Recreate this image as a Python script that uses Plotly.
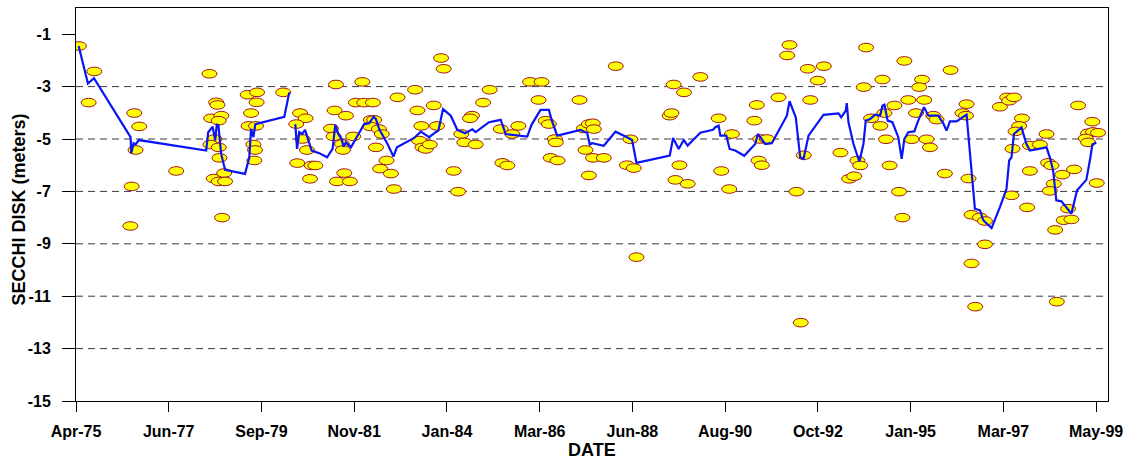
import pandas as pd
import plotly.graph_objects as go

# Secchi disk readings (decimal year, depth in metres; negative = below surface)
sample_year = [
    1975.353, 1975.716, 1975.582, 1976.660, 1976.778, 1976.691, 1976.596, 1976.566,
    1977.651, 1978.437, 1978.595, 1978.625, 1978.477, 1978.720, 1978.656, 1978.555,
    1978.460, 1978.656, 1978.673, 1978.538, 1978.784, 1978.656, 1978.807, 1978.736,
    1979.340, 1979.562, 1979.553, 1979.421, 1979.364, 1979.539, 1979.475, 1979.515,
    1979.498, 1980.183, 1980.577, 1980.709, 1980.489, 1980.638, 1980.742, 1980.513,
    1980.850, 1980.938, 1980.813, 1981.426, 1982.047, 1981.393, 1981.662, 1981.308,
    1981.370, 1981.834, 1981.568, 1981.591, 1981.622, 1981.450, 1981.756, 1981.898,
    1982.094, 1982.299, 1982.252, 1982.330, 1982.236, 1982.441, 1982.512, 1982.370,
    1982.620, 1982.471, 1982.724, 1982.795, 1982.880, 1983.297, 1983.351, 1983.911,
    1983.974, 1983.739, 1983.446, 1983.816, 1983.392, 1983.469, 1983.550, 1983.644,
    1984.210, 1984.312, 1985.060, 1984.902, 1984.642, 1984.595, 1984.390, 1984.461,
    1984.729, 1985.320, 1985.735, 1985.593, 1985.357, 1985.475, 1986.011, 1986.287,
    1986.216, 1986.381, 1986.459, 1986.601, 1986.624, 1986.499, 1986.664, 1987.183,
    1987.285, 1987.403, 1987.325, 1987.403, 1988.040, 1987.497, 1987.521, 1987.504,
    1987.757, 1988.387, 1988.306, 1988.465, 1988.528, 1989.408, 1989.652, 1990.038,
    1989.314, 1989.354, 1989.543, 1989.449, 1989.739, 1990.470, 1990.784, 1990.534,
    1990.723, 1991.374, 1991.313, 1991.454, 1991.414, 1991.492, 1991.610, 1992.146,
    1992.091, 1991.886, 1992.577, 1992.955, 1992.813, 1992.634, 1992.483, 1992.311,
    1992.412, 1993.349, 1993.955, 1993.898, 1994.340, 1994.859, 1995.277, 1995.213,
    1994.953, 1995.331, 1994.073, 1994.387, 1994.623, 1994.292, 1995.135, 1994.427,
    1995.031, 1995.385, 1995.465, 1995.543, 1995.621, 1993.750, 1993.814, 1993.554,
    1993.672, 1994.512, 1994.734, 1994.812, 1995.819, 1995.951, 1996.329, 1996.234,
    1996.315, 1996.376, 1996.447, 1996.645, 1996.763, 1996.763, 1996.447, 1996.534,
    1997.117, 1997.289, 1997.336, 1997.447, 1997.636, 1997.572, 1997.485, 1997.414,
    1997.391, 1997.761, 1997.825, 1997.825, 1998.061, 1998.217, 1998.257, 1998.335,
    1998.594, 1998.870, 1998.391, 1998.297, 1998.729, 1998.627, 1998.807, 1998.422,
    1998.462, 1998.965, 1999.302, 1999.200, 1999.318, 1999.436, 1999.146, 1999.200,
    1999.406,
]
secchi_depth = [
    -1.45, -2.42, -3.61, -4.01, -4.52, -5.42, -6.81, -8.32,
    -6.22, -2.51, -3.60, -3.70, -4.21, -4.11, -4.30, -5.00,
    -5.21, -5.32, -5.72, -6.51, -6.30, -6.62, -6.62, -8.00,
    -3.31, -3.22, -3.60, -4.01, -4.50, -4.50, -5.21, -5.42,
    -5.82, -3.22, -4.01, -4.21, -4.43, -5.00, -5.42, -5.92,
    -6.01, -6.01, -6.52, -2.92, -2.82, -3.91, -4.11, -4.60,
    -4.90, -4.90, -5.19, -5.42, -6.30, -6.62, -6.62, -3.61,
    -3.61, -3.61, -4.27, -4.27, -4.52, -4.62, -4.81, -5.32,
    -5.82, -6.13, -6.32, -6.91, -3.41, -3.12, -3.91, -1.91,
    -2.32, -3.72, -4.50, -4.50, -5.06, -5.32, -5.38, -5.21,
    -6.22, -7.01, -3.12, -3.61, -4.11, -4.21, -4.81, -5.13,
    -5.21, -4.62, -4.50, -4.81, -5.91, -6.01, -2.82, -2.82,
    -3.51, -4.30, -4.43, -5.00, -5.13, -5.72, -5.82, -3.51,
    -4.60, -4.43, -5.42, -6.39, -2.22, -4.40, -4.62, -5.72,
    -5.72, -5.01, -6.00, -6.11, -9.51, -2.92, -3.22, -2.63,
    -4.11, -4.01, -6.00, -6.56, -6.71, -4.21, -4.81, -6.22,
    -6.91, -3.70, -4.30, -5.00, -5.82, -6.00, -5.00, -1.41,
    -1.81, -3.41, -2.32, -2.22, -2.77, -3.51, -5.62, -7.01,
    -12.01, -5.52, -1.51, -3.02, -2.73, -2.02, -2.73, -3.02,
    -3.51, -3.51, -4.21, -4.01, -3.72, -4.50, -4.01, -5.01,
    -5.01, -5.01, -5.32, -4.11, -4.26, -5.82, -6.01, -6.52,
    -6.42, -6.01, -7.01, -8.00, -6.32, -2.37, -3.67, -4.01,
    -4.11, -6.51, -7.89, -7.99, -8.13, -9.02, -9.75, -11.40,
    -3.77, -3.41, -3.54, -3.41, -4.21, -4.50, -4.71, -5.37,
    -7.15, -7.61, -6.22, -5.25, -5.21, -4.81, -5.91, -6.01,
    -6.36, -6.16, -6.71, -6.98, -7.66, -8.10, -8.07, -8.47,
    -11.21, -3.72, -4.34, -4.78, -4.73, -4.76, -4.98, -5.13,
    -6.68,
]

# Smoothed trend (None marks a break in the record)
trend_year = [
    1975.346, 1975.565, 1975.707, 1976.573, 1976.589, 1976.643, 1976.691, 1976.769,
    1977.651, 1978.359, 1978.406, 1978.515, 1978.571, 1978.609, 1978.649, 1978.713,
    1978.807, 1979.279, 1979.380, 1979.421, 1979.475, 1979.522, 1980.206, 1980.324,
    1980.395,
    1980.466, 1980.506, 1980.560, 1980.624, 1980.695, 1980.773, 1980.850, 1981.032,
    1981.214, 1981.346, 1981.410, 1981.480, 1981.558, 1981.606, 1981.662, 1981.780,
    1981.952, 1982.094, 1982.212, 1982.313, 1982.370, 1982.448, 1982.644, 1982.785,
    1982.866, 1983.274, 1983.432, 1983.628, 1983.786, 1983.847, 1983.958, 1984.140,
    1984.295, 1984.477, 1984.649, 1984.729, 1985.043, 1985.320, 1985.437, 1985.947,
    1986.051, 1986.263, 1986.459, 1986.523, 1986.655, 1987.207, 1987.285, 1987.363,
    1987.426, 1987.481, 1987.757, 1988.033, 1988.306, 1988.425, 1988.528, 1989.314,
    1989.392, 1989.526, 1989.644, 1989.739, 1990.038, 1990.336, 1990.392, 1990.470,
    1990.510, 1990.652, 1990.730, 1990.864, 1991.076, 1991.336, 1991.398, 1991.572,
    1991.728, 1992.082, 1992.146, 1992.294, 1992.398, 1992.476, 1992.594, 1992.948,
    1993.302, 1993.365, 1993.474, 1993.497, 1993.538, 1993.656, 1993.797, 1993.892,
    1993.946, 1994.050, 1994.168, 1994.286, 1994.340, 1994.387, 1994.465, 1994.576,
    1994.717, 1994.795, 1994.859, 1994.953, 1995.095, 1995.189, 1995.324, 1995.425,
    1995.661, 1995.779, 1995.857, 1995.937, 1996.093, 1996.329, 1996.527, 1996.645,
    1996.723, 1996.919, 1997.117, 1997.273, 1997.336, 1997.391, 1997.447, 1997.627,
    1997.745, 1997.825, 1998.217, 1998.297, 1998.375, 1998.452, 1998.571, 1998.807,
    1998.941, 1999.160, 1999.255, 1999.302, 1999.396,
]
trend_depth = [
    -1.45, -2.88, -2.68, -4.93, -5.54, -5.16, -5.21, -5.04,
    -5.26, -5.44, -4.74, -4.53, -5.06, -4.45, -4.47, -5.57,
    -6.18, -6.33, -5.70, -4.62, -4.93, -4.43, -4.15, -3.22,
    None,
    -4.43, -5.38, -4.74, -4.81, -4.65, -5.06, -5.44, -5.54,
    -5.70, -5.38, -4.45, -4.81, -5.00, -5.29, -5.13, -5.32,
    -4.81, -4.43, -4.40, -4.15, -4.24, -4.62, -5.19, -5.67,
    -5.32, -4.96, -4.72, -4.93, -4.74, -4.68, -3.86, -4.11,
    -4.65, -4.78, -4.63, -4.74, -4.36, -4.27, -4.81, -4.91,
    -4.45, -3.89, -3.89, -4.27, -4.87, -4.65, -4.71, -4.76,
    -5.21, -5.16, -5.26, -4.72, -4.93, -5.04, -5.91, -5.63,
    -4.96, -5.38, -5.04, -5.25, -4.76, -4.65, -4.55, -4.49,
    -4.87, -4.87, -5.38, -5.44, -5.64, -5.19, -4.81, -5.19,
    -5.16, -4.11, -3.56, -4.17, -5.70, -5.76, -4.87, -4.08,
    -4.02, -4.17, -3.92, -3.63, -4.36, -5.19, -5.86, -5.19,
    -4.30, -4.24, -4.07, -4.11, -3.73, -3.69, -4.30, -4.36,
    -4.93, -5.76, -5.00, -4.74, -4.71, -4.30, -3.79, -4.11,
    -4.11, -4.40, -4.68, -4.33, -4.33, -4.07, -7.66, -7.72,
    -8.10, -8.40, -7.60, -6.90, -5.82, -5.70, -4.81, -4.56,
    -5.19, -5.44, -5.32, -5.70, -6.20, -7.34, -7.38, -7.85,
    -6.96, -6.56, -5.70, -5.21, -5.13,
]

tick_labels = ["Apr-75", "Jun-77", "Sep-79", "Nov-81", "Jan-84", "Mar-86",
               "Jun-88", "Aug-90", "Oct-92", "Jan-95", "Mar-97", "May-99"]
first_tick, last_tick = "1975-04-14", "1999-05-23"
x_range = ["1975-04-14", "1999-09-03"]
y_range = [-15, 0]
y_ticks = [-15, -13, -11, -9, -7, -5, -3, -1]
grid_levels = [-3, -5, -7, -9, -11, -13]

FONT = "Arial, 'Liberation Sans', Helvetica, sans-serif"


def to_date(yr):
    """Decimal year -> ISO date string."""
    if yr is None:
        return None
    year = int(yr)
    start = pd.Timestamp(year=year, month=1, day=1)
    span = pd.Timestamp(year=year + 1, month=1, day=1) - start
    return (start + (yr - year) * span).strftime("%Y-%m-%d")


sample_dates = [to_date(y) for y in sample_year]
trend_dates = [to_date(y) for y in trend_year]
tick_dates = pd.date_range(first_tick, last_tick, periods=len(tick_labels))

shapes = []
# dashed horizontal reference lines
for level in grid_levels:
    shapes.append(dict(type="line", xref="paper", yref="y", x0=0, x1=1,
                       y0=level, y1=level, layer="between",
                       line=dict(color="#3a3a3a", width=1, dash="7px,5px")))
# oval sample markers, fixed pixel size, anchored at each reading
for d, v in zip(sample_dates, secchi_depth):
    shapes.append(dict(type="circle", xref="x", yref="y",
                       xsizemode="pixel", ysizemode="pixel",
                       xanchor=d, yanchor=v, x0=-7.5, x1=7.5, y0=-4.3, y1=4.3,
                       fillcolor="#FFFF00", layer="between",
                       line=dict(color="#A0141E", width=1)))

fig = go.Figure()
fig.add_trace(go.Scatter(
    x=sample_dates, y=secchi_depth, mode="markers",
    marker=dict(size=14, opacity=0), name="Secchi depth",
    hovertemplate="%{x|%b-%y}: %{y} m<extra></extra>",
))
fig.add_trace(go.Scatter(
    x=trend_dates, y=trend_depth, mode="lines", connectgaps=False,
    line=dict(color="#0A14F5", width=2.2), name="Trend",
    hoverinfo="skip",
))

tick_font = dict(family=FONT, size=16, color="black", weight="bold")

fig.update_layout(
    width=1130, height=464,
    margin=dict(l=76, r=20, t=7, b=63),
    paper_bgcolor="white", plot_bgcolor="white",
    showlegend=False,
    shapes=shapes,
    xaxis=dict(
        type="date", range=x_range,
        tickmode="array", tickvals=tick_dates, ticktext=tick_labels,
        ticks="outside", ticklen=10, tickwidth=1, tickcolor="black",
        ticklabelstandoff=6,
        showline=True, linecolor="black", linewidth=1, mirror=True,
        showgrid=False, zeroline=False, tickfont=tick_font,
    ),
    yaxis=dict(
        range=y_range,
        tickmode="array", tickvals=y_ticks, ticktext=[str(v) for v in y_ticks],
        ticks="outside", ticklen=13, tickwidth=1, tickcolor="black",
        ticklabelstandoff=8,
        showline=True, linecolor="black", linewidth=1, mirror=True,
        showgrid=False, zeroline=False, tickfont=tick_font,
    ),
    annotations=[
        dict(text="SECCHI DISK (meters)", xref="paper", yref="paper",
             x=0, y=0.5, xshift=-58, yshift=-5, textangle=-90,
             xanchor="center", yanchor="middle", showarrow=False,
             font=dict(family=FONT, size=18, color="black", weight="bold")),
        dict(text="DATE", xref="paper", yref="paper",
             x=0.5, y=0, yshift=-49, xanchor="center", yanchor="middle",
             showarrow=False,
             font=dict(family=FONT, size=18, color="black", weight="bold")),
    ],
)

fig.write_html("out.html")
